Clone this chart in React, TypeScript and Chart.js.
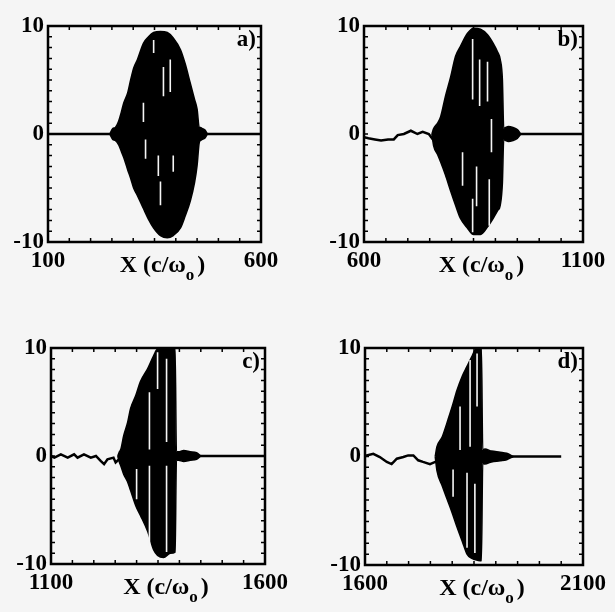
import React, { useEffect, useRef } from 'react';
import { Chart, registerables } from 'chart.js';

Chart.register(...registerables);

// ---------- Data ----------
const Y_TICKS = [-10, 0, 10];
const X_TITLE = 'X (c/ω';
const X_TITLE_SUB = 'o';
const PANEL_LABELS = ['a)', 'b)', 'c)', 'd)'];
const X_RANGES = [[100, 600], [600, 1100], [1100, 1600], [1600, 2100]];

// Panel a) field envelope, baseline and light gaps inside the packet
const A_ENV_X = [245, 252, 258, 266, 272, 278, 287, 294, 301, 310, 324, 336, 348, 364, 380, 394, 411, 422, 434, 444, 450, 455, 458, 462, 468, 474];
const A_ENV_UP = [0, 0.5, 0.6, 1.2, 2.0, 2.9, 3.8, 5.0, 6.1, 6.9, 8.4, 9.0, 9.4, 9.5, 9.4, 8.9, 7.8, 6.5, 4.7, 3.2, 2.3, 0.6, 0.6, 0.5, 0.4, 0];
const A_ENV_LO = [0, -0.5, -0.6, -1.0, -1.6, -2.2, -3.3, -4.1, -5.0, -5.7, -6.9, -7.9, -8.7, -9.4, -9.6, -9.4, -8.7, -7.6, -6.2, -4.5, -2.9, -0.8, -0.6, -0.5, -0.4, 0];
const A_BASE_X = [100, 600];
const A_BASE_Y = [0, 0];
const A_GAP_X = [324, 329, 348, 359, 364, 371, 387, 394];
const A_GAP_TOP = [2.9, -0.5, 8.7, -2.0, -4.4, 6.2, 6.9, -2.0];
const A_GAP_BOT = [1.1, -2.3, 7.5, -3.9, -6.6, 3.5, 3.9, -3.5];

// Panel b)
const B_ENV_X = [755, 759, 768, 775, 786, 798, 809, 820, 836, 850, 866, 882, 895, 905, 911, 916, 919, 923, 930, 940, 950, 958];
const B_ENV_UP = [0, 0.5, 1.0, 1.6, 3.5, 5.3, 7.2, 8.1, 9.3, 9.8, 9.7, 9.2, 8.4, 7.6, 6.9, 5.0, 0.5, 0.6, 0.7, 0.6, 0.4, 0];
const B_ENV_LO = [0, -1.1, -1.9, -2.6, -3.8, -5.3, -6.6, -7.8, -8.7, -9.3, -9.3, -8.6, -7.8, -7.1, -6.6, -4.5, -0.5, -0.6, -0.7, -0.6, -0.4, 0];
const B_BASE_X = [600, 610, 625, 639, 655, 668, 677, 691, 707, 722, 734, 748, 759, 960, 1100];
const B_BASE_Y = [-0.3, -0.4, -0.5, -0.6, -0.5, -0.5, -0.1, 0.0, 0.3, 0.0, 0.2, 0.0, -0.6, 0, 0];
const B_GAP_X = [825, 848, 848, 857, 864, 882, 886, 891];
const B_GAP_TOP = [-1.7, 8.8, -6.0, -3.0, 6.9, 6.7, -4.2, 1.4];
const B_GAP_BOT = [-4.8, 3.2, -9.1, -6.7, 2.6, 3.0, -8.5, -1.7];

// Panel c)
const C_ENV_X = [1256, 1260, 1263, 1270, 1279, 1286, 1298, 1309, 1326, 1340, 1349, 1363, 1379, 1390, 1393, 1398, 1410, 1425, 1440, 1450];
const C_ENV_UP = [0, 0.4, 0.6, 1.9, 3.1, 4.4, 5.6, 6.9, 8.1, 9.3, 9.9, 9.9, 9.9, 9.9, 0.4, 0.4, 0.5, 0.4, 0.3, 0];
const C_ENV_LO = [0, -0.6, -0.9, -1.7, -2.4, -3.2, -4.6, -5.5, -7.0, -8.7, -9.2, -9.4, -9.0, -8.9, -0.4, -0.4, -0.5, -0.4, -0.3, 0];
const C_BASE_X = [1100, 1108, 1123, 1139, 1154, 1162, 1177, 1193, 1205, 1216, 1224, 1232, 1246, 1251, 1259, 1450, 1600];
const C_BASE_Y = [0, -0.15, 0.15, -0.15, 0.15, -0.15, 0.15, -0.15, 0.0, -0.45, -0.75, -0.3, -0.15, -0.6, -0.3, 0, 0];
const C_GAP_X = [1300, 1330, 1330, 1349, 1370, 1370];
const C_GAP_TOP = [-1.2, 5.9, -0.9, 9.6, 9.0, -0.9];
const C_GAP_BOT = [-4.0, 0.6, -8.3, 6.2, 1.3, -8.9];

// Panel d)
const D_ENV_X = [1761, 1765, 1777, 1788, 1800, 1811, 1823, 1834, 1845, 1852, 1864, 1867, 1870, 1875, 1890, 1910, 1925, 1940];
const D_ENV_UP = [0, 0.9, 1.8, 3.1, 4.6, 6.1, 7.4, 8.3, 9.2, 9.8, 10, 10, 0.6, 0.7, 0.5, 0.4, 0.3, 0];
const D_ENV_LO = [0, -1.3, -2.7, -3.9, -5.2, -6.5, -7.8, -9.0, -9.4, -9.5, -9.6, -9.6, -0.6, -0.7, -0.5, -0.4, -0.3, 0];
const D_BASE_X = [1600, 1604, 1619, 1634, 1650, 1661, 1673, 1688, 1699, 1711, 1722, 1733, 1749, 1761, 1940, 2050];
const D_BASE_Y = [0, 0.1, 0.25, -0.05, -0.5, -0.7, -0.2, -0.05, 0.1, 0.1, -0.35, -0.5, -0.7, -0.5, 0, 0];
const D_GAP_X = [1802, 1818, 1834, 1841, 1852, 1857];
const D_GAP_TOP = [-1.2, 4.6, -1.5, 8.9, -2.5, 9.5];
const D_GAP_BOT = [-3.7, 0.6, -8.4, 0.9, -8.9, 4.6];

const ENV_X = [A_ENV_X, B_ENV_X, C_ENV_X, D_ENV_X];
const ENV_UP = [A_ENV_UP, B_ENV_UP, C_ENV_UP, D_ENV_UP];
const ENV_LO = [A_ENV_LO, B_ENV_LO, C_ENV_LO, D_ENV_LO];
const BASE_X = [A_BASE_X, B_BASE_X, C_BASE_X, D_BASE_X];
const BASE_Y = [A_BASE_Y, B_BASE_Y, C_BASE_Y, D_BASE_Y];
const GAP_X = [A_GAP_X, B_GAP_X, C_GAP_X, D_GAP_X];
const GAP_TOP = [A_GAP_TOP, B_GAP_TOP, C_GAP_TOP, D_GAP_TOP];
const GAP_BOT = [A_GAP_BOT, B_GAP_BOT, C_GAP_BOT, D_GAP_BOT];

// ---------- Layout (page pixels) ----------
const LAYOUT = [
  { left: 0, top: 0, w: 300, h: 300, yW: 48, padR: 39, padT: 26, xH: 58 },
  { left: 300, top: 0, w: 315, h: 300, yW: 64, padR: 32, padT: 26, xH: 58 },
  { left: 0, top: 300, w: 300, h: 312, yW: 51, padR: 35, padT: 48, xH: 48 },
  { left: 300, top: 300, w: 315, h: 312, yW: 65, padR: 32, padT: 48, xH: 47 },
];

const BG = '#f5f5f5';
const FONT_FAMILY = '"Liberation Serif", "Times New Roman", serif';
const FONT_SIZE = 23;
const TITLE_SIZE = 24;
const FONT_WEIGHT = 'bold';

const zip = (xs: number[], ys: number[]) => xs.map((x, i) => ({ x, y: ys[i] }));
const gapSegments = (xs: number[], tops: number[], bots: number[]) => {
  const out: { x: number; y: number | null }[] = [];
  xs.forEach((x, i) => {
    out.push({ x, y: tops[i] }, { x, y: bots[i] }, { x, y: null });
  });
  return out;
};

const framePlugin = {
  id: 'frameDeco',
  afterDatasetsDraw(chart: any, _args: any, opts: any) {
    const { ctx, chartArea: a, scales } = chart;
    const xs = scales.x;
    const ys = scales.y;
    ctx.save();
    ctx.strokeStyle = '#000';
    ctx.lineWidth = 1.5;
    // inner minor ticks
    for (let v = xs.min + 50; v < xs.max; v += 50) {
      const p = xs.getPixelForValue(v);
      ctx.beginPath();
      ctx.moveTo(p, a.bottom); ctx.lineTo(p, a.bottom - 4);
      ctx.moveTo(p, a.top); ctx.lineTo(p, a.top + 4);
      ctx.stroke();
    }
    for (let v = ys.min + 1; v < ys.max; v += 1) {
      const p = ys.getPixelForValue(v);
      ctx.beginPath();
      ctx.moveTo(a.left, p); ctx.lineTo(a.left + 4, p);
      ctx.moveTo(a.right, p); ctx.lineTo(a.right - 4, p);
      ctx.stroke();
    }
    // frame
    ctx.lineWidth = 2.5;
    ctx.strokeRect(a.left, a.top, a.right - a.left, a.bottom - a.top);
    // panel label
    const f = (s: number) => `${FONT_WEIGHT} ${s}px ${FONT_FAMILY}`;
    ctx.fillStyle = '#000';
    ctx.font = f(FONT_SIZE);
    ctx.textAlign = 'right';
    ctx.textBaseline = 'top';
    ctx.fillText(opts.label, a.right - 5, a.top + 3);
    // x axis title with subscript
    const main = X_TITLE;
    const sub = X_TITLE_SUB;
    const close = ')';
    ctx.font = f(TITLE_SIZE);
    const wMain = ctx.measureText(main).width;
    const wClose = ctx.measureText(close).width;
    ctx.font = f(TITLE_SIZE - 7);
    const wSub = ctx.measureText(sub).width;
    const total = wMain + wSub + 3 + wClose;
    const cx = (a.left + a.right) / 2 + 8;
    const base = a.bottom + 30;
    let x0 = cx - total / 2;
    ctx.textAlign = 'left';
    ctx.textBaseline = 'alphabetic';
    ctx.font = f(TITLE_SIZE);
    ctx.fillText(main, x0, base);
    x0 += wMain;
    ctx.font = f(TITLE_SIZE - 7);
    ctx.fillText(sub, x0, base + 8);
    x0 += wSub + 3;
    ctx.font = f(TITLE_SIZE);
    ctx.fillText(close, x0, base);
    ctx.restore();
  },
};

function Panel({ idx }: { idx: number }) {
  const ref = useRef<HTMLCanvasElement | null>(null);
  const L = LAYOUT[idx];
  useEffect(() => {
    if (!ref.current) return;
    const [xmin, xmax] = X_RANGES[idx];
    const tickFont = { family: FONT_FAMILY, size: FONT_SIZE, weight: FONT_WEIGHT };
    const chart = new Chart(ref.current, {
      type: 'line',
      data: {
        datasets: [
          {
            data: zip(BASE_X[idx], BASE_Y[idx]),
            borderColor: '#000',
            borderWidth: 2.5,
            pointRadius: 0,
            fill: false,
            order: 3,
          },
          {
            data: zip(ENV_X[idx], ENV_UP[idx]),
            borderColor: '#000',
            borderWidth: 1.5,
            pointRadius: 0,
            cubicInterpolationMode: 'monotone',
            fill: false,
            order: 2,
          },
          {
            data: zip(ENV_X[idx], ENV_LO[idx]),
            borderColor: '#000',
            borderWidth: 1.5,
            backgroundColor: '#000',
            pointRadius: 0,
            cubicInterpolationMode: 'monotone',
            fill: '-1',
            order: 1,
          },
          {
            data: gapSegments(GAP_X[idx], GAP_TOP[idx], GAP_BOT[idx]),
            borderColor: BG,
            borderWidth: 1.6,
            pointRadius: 0,
            spanGaps: false,
            fill: false,
            order: 0,
          },
        ],
      },
      options: {
        responsive: false,
        animation: false,
        events: [],
        layout: { padding: { left: 0, right: L.padR, top: L.padT, bottom: 0 } },
        plugins: {
          legend: { display: false },
          tooltip: { enabled: false },
          frameDeco: { label: PANEL_LABELS[idx] },
        } as any,
        scales: {
          x: {
            type: 'linear',
            min: xmin,
            max: xmax,
            grid: { display: false, drawTicks: false },
            border: { display: false },
            afterBuildTicks: (s: any) => { s.ticks = [xmin, xmax].map((v) => ({ value: v })); },
            afterFit: (s: any) => { s.height = L.xH; },
            ticks: {
              autoSkip: false,
              maxRotation: 0,
              padding: 5,
              color: '#000',
              font: tickFont,
              callback: (v: any) => String(v),
            },
          },
          y: {
            type: 'linear',
            min: -10,
            max: 10,
            grid: { display: false, drawTicks: false },
            border: { display: false },
            afterBuildTicks: (s: any) => { s.ticks = Y_TICKS.map((v) => ({ value: v })); },
            afterFit: (s: any) => { s.width = L.yW; },
            ticks: {
              autoSkip: false,
              padding: 4,
              color: '#000',
              font: tickFont,
              callback: (v: any) => String(v),
            },
          },
        },
      } as any,
      plugins: [framePlugin as any],
    });
    return () => chart.destroy();
  }, [idx]);
  return (
    <canvas
      ref={ref}
      width={L.w}
      height={L.h}
      style={{ position: 'absolute', left: L.left, top: L.top, width: L.w, height: L.h }}
    />
  );
}

export default function App() {
  return (
    <div>
      <div style={{ position: 'fixed', left: 0, top: 0, width: '100%', height: '100%', background: BG }} />
      {[0, 1, 2, 3].map((i) => (
        <Panel key={i} idx={i} />
      ))}
    </div>
  );
}
